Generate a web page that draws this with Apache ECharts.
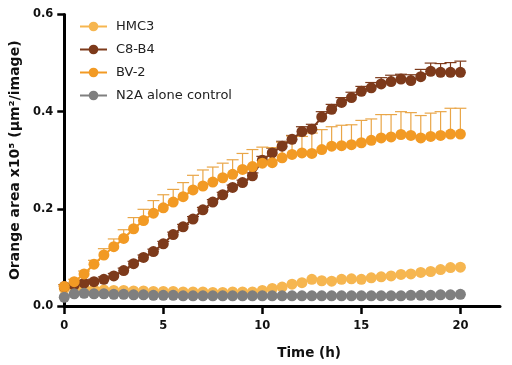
<!DOCTYPE html>
<html>
<head>
<meta charset="utf-8">
<script src="https://cdn.jsdelivr.net/npm/echarts@6/dist/echarts.min.js"></script>
<style>html,body{margin:0;padding:0;background:#fff}#c{width:512px;height:365px}</style>
</head>
<body>
<div id="c"></div>
<script>
var times = [0,0.5,1,1.5,2,2.5,3,3.5,4,4.5,5,5.5,6,6.5,7,7.5,8,8.5,9,9.5,10,10.5,11,11.5,12,12.5,13,13.5,14,14.5,15,15.5,16,16.5,17,17.5,18,18.5,19,19.5,20];
var hmc3 = [0.036,0.038,0.036,0.034,0.033,0.032,0.032,0.031,0.031,0.030,0.030,0.030,0.029,0.029,0.029,0.028,0.028,0.029,0.029,0.029,0.032,0.036,0.039,0.045,0.048,0.055,0.052,0.051,0.055,0.056,0.055,0.058,0.060,0.062,0.065,0.066,0.069,0.071,0.075,0.079,0.080];
var c8b4 = [0.040,0.043,0.047,0.050,0.055,0.062,0.073,0.087,0.100,0.112,0.128,0.147,0.163,0.179,0.198,0.214,0.229,0.244,0.254,0.268,0.300,0.315,0.329,0.343,0.359,0.364,0.389,0.405,0.419,0.429,0.442,0.449,0.457,0.462,0.467,0.464,0.472,0.483,0.481,0.481,0.481];
var c8b4Err = [0.004,0.004,0.005,0.005,0.005,0.005,0.005,0.005,0.005,0.005,0.005,0.005,0.005,0.005,0.005,0.005,0.005,0.005,0.005,0.006,0.008,0.010,0.010,0.008,0.010,0.010,0.011,0.010,0.010,0.011,0.010,0.011,0.013,0.013,0.010,0.012,0.015,0.017,0.018,0.020,0.023];
var bv2 = [0.040,0.050,0.066,0.086,0.105,0.122,0.139,0.159,0.176,0.191,0.202,0.214,0.225,0.239,0.247,0.255,0.264,0.271,0.281,0.287,0.294,0.295,0.305,0.312,0.315,0.314,0.322,0.329,0.330,0.332,0.336,0.341,0.346,0.348,0.353,0.351,0.346,0.349,0.351,0.354,0.354];
var bv2Err = [0.004,0.005,0.006,0.008,0.013,0.016,0.018,0.023,0.023,0.026,0.027,0.026,0.029,0.030,0.033,0.031,0.030,0.030,0.033,0.035,0.033,0.031,0.032,0.038,0.034,0.042,0.041,0.040,0.042,0.041,0.046,0.044,0.048,0.046,0.047,0.047,0.046,0.048,0.049,0.053,0.053];
var n2a = [0.018,0.025,0.026,0.025,0.025,0.024,0.024,0.023,0.023,0.022,0.022,0.022,0.021,0.021,0.021,0.021,0.021,0.021,0.021,0.021,0.021,0.021,0.021,0.021,0.021,0.021,0.021,0.021,0.021,0.021,0.021,0.021,0.021,0.021,0.021,0.022,0.022,0.022,0.023,0.023,0.024];
var xTicks = [0,5,10,15,20];
var seriesNames = ['HMC3','C8-B4','BV-2','N2A alone control'];
var colors = ['#F6B650','#7D3A1B','#F29A24','#7F7F7F'];

function pairs(v){ return times.map(function(t,i){ return [t, v[i]]; }); }
function errData(v,e){ return times.map(function(t,i){ return [t, v[i], e[i]]; }); }
function errSeries(v,e,color){
  return {
    type:'custom', silent:true, z:1,
    data: errData(v,e),
    renderItem: function(params, api){
      var p0 = api.coord([api.value(0), api.value(1)]);
      var p1 = api.coord([api.value(0), api.value(1)+api.value(2)]);
      return {type:'group', children:[
        {type:'line', shape:{x1:p0[0],y1:p0[1],x2:p1[0],y2:p1[1]}, style:{stroke:color,lineWidth:1.2}},
        {type:'line', shape:{x1:p1[0]-6,y1:p1[1],x2:p1[0]+6,y2:p1[1]}, style:{stroke:color,lineWidth:1.2}}
      ]};
    }
  };
}
function lineSeries(name, v, color){
  return {
    name:name, type:'line', data:pairs(v), symbol:'circle', symbolSize:11, z:2,
    itemStyle:{color:color, opacity:1}, lineStyle:{color:color, width:2},
    emphasis:{disabled:true}, animation:false
  };
}
var font = 'DejaVu Sans';
var chart = echarts.init(document.getElementById('c'), null, {renderer:'canvas'});
chart.setOption({
  animation:false,
  backgroundColor:'#fff',
  grid:{left:60, right:12, top:14.5, bottom:58},
  legend:{
    left:74, top:15, orient:'vertical', itemWidth:27, itemHeight:12, itemGap:10,
    data: seriesNames,
    textStyle:{fontFamily:font, fontSize:13, lineHeight:12, color:'#222', padding:[0,0,0,4]}
  },
  xAxis:{
    type:'value', min:0, max:22, interval:5,
    name:'Time (h)', nameLocation:'middle', nameGap:40,
    nameTextStyle:{fontFamily:font, fontWeight:'bold', fontSize:13.5, color:'#111', padding:[0,0,0,54]},
    axisLine:{show:true, onZero:false, lineStyle:{color:'#000', width:3}},
    axisTick:{show:true, length:8, lineStyle:{color:'#000', width:2.5}, customValues:xTicks},
    axisLabel:{margin:14, fontFamily:font, fontWeight:'bold', fontSize:11.5, color:'#111', customValues:xTicks},
    splitLine:{show:false}
  },
  yAxis:{
    type:'value', min:0, max:0.6, interval:0.2,
    name:'Orange area x10\u2075 (\u03bcm\u00b2/image)', nameLocation:'middle', nameGap:40, nameRotate:90,
    nameTextStyle:{fontFamily:font, fontWeight:'bold', fontSize:14, color:'#111'},
    axisLine:{show:true, lineStyle:{color:'#000', width:3}},
    axisTick:{show:true, length:7, lineStyle:{color:'#000', width:2.5}},
    axisLabel:{margin:11, fontFamily:font, fontWeight:'bold', fontSize:11.5, color:'#111', formatter:function(v){return v.toFixed(1);}},
    splitLine:{show:false}
  },
  series:[
    lineSeries(seriesNames[0], hmc3, colors[0]),
    errSeries(c8b4, c8b4Err, '#7D3A1B'),
    errSeries(bv2, bv2Err, '#E9A648'),
    lineSeries(seriesNames[1], c8b4, colors[1]),
    lineSeries(seriesNames[2], bv2, colors[2]),
    lineSeries(seriesNames[3], n2a, colors[3])
  ]
});
</script>
</body>
</html>
